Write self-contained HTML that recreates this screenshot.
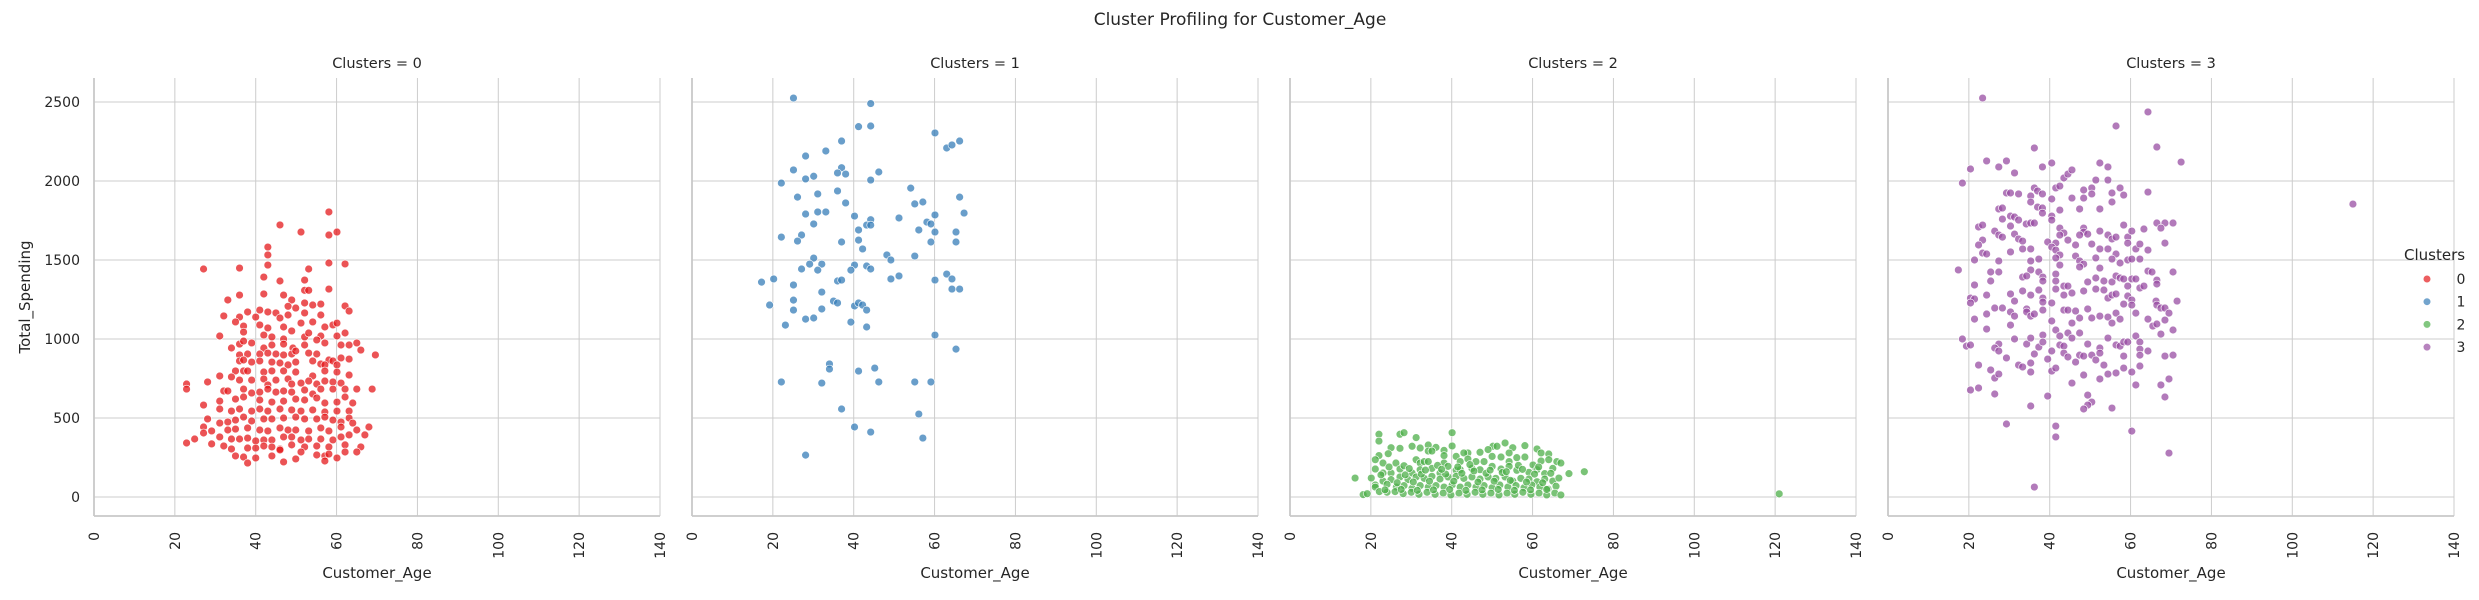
<!DOCTYPE html>
<html><head><meta charset="utf-8"><title>Cluster Profiling for Customer_Age</title>
<style>html,body{margin:0;padding:0;background:#fff}svg{display:block}text{font-family:"DejaVu Sans","Liberation Sans",sans-serif;fill:#262626}</style>
</head><body>
<svg id="chart" width="2479" height="600" viewBox="0 0 2479 600" xmlns="http://www.w3.org/2000/svg">
<text x="1240" y="25" font-size="17" text-anchor="middle">Cluster Profiling for Customer_Age</text>
<g id="panels"></g>
<g>
<text x="2404" y="260" font-size="15">Clusters</text>
<g id="legend-entries"></g>
</g>
</svg>
<script>
const xTicks = [0,20,40,60,80,100,120,140];
const yTicks = [0,500,1000,1500,2000,2500];
const clusterNames = ["0","1","2","3"];
const clusterColors = ["#e41a1c","#377eb8","#4daf4a","#984ea3"];

const age0 = [58.1,46.0,51.2,58.1,60.1,43.0,43.0,43.0,27.1,36.0,53.1,58.1,62.1,42.0,46.0,52.1,52.1,53.1,58.1,33.1,36.0,42.0,46.9,48.9,49.9,48.0,52.1,54.1,56.1,62.1,63.1,32.1,36.0,38.0,40.0,41.0,43.0,45.0,46.0,48.0,52.1,54.1,56.1,35.0,37.0,41.0,43.0,46.9,51.2,48.9,57.1,59.1,60.1,31.1,37.0,42.0,44.0,46.9,52.1,53.1,56.1,60.1,62.1,34.0,36.0,37.0,39.0,42.0,44.0,46.9,49.2,52.1,55.1,57.1,61.1,63.1,65.0,66.0,36.0,38.0,41.0,43.0,45.0,46.9,48.9,49.9,53.1,55.1,58.1,59.1,61.1,63.1,69.6,36.0,37.0,39.0,41.0,44.0,46.0,48.0,49.9,54.1,56.1,57.1,60.1,35.0,37.0,38.0,42.0,44.0,46.9,49.9,54.1,57.1,60.1,63.1,31.1,34.0,36.0,39.0,42.0,43.0,45.0,48.0,48.9,51.2,53.1,55.1,57.1,59.1,61.1,22.9,22.9,28.1,32.1,33.1,37.0,39.0,41.0,43.0,45.0,46.9,48.9,52.1,54.1,56.1,59.1,62.1,65.0,68.8,31.1,35.0,37.0,41.0,44.0,46.9,49.9,52.1,55.1,57.1,60.1,62.1,64.0,27.1,31.1,34.0,36.0,39.0,41.0,43.0,46.0,48.9,51.2,54.1,57.1,60.1,63.1,28.1,31.1,33.1,35.0,37.0,39.0,42.0,44.0,46.9,49.9,52.1,55.1,57.1,59.1,61.1,63.1,64.0,27.1,27.1,29.1,33.1,35.0,38.0,41.0,43.0,46.0,48.0,49.9,53.1,56.1,58.1,61.1,65.0,68.0,67.0,22.9,24.9,29.1,31.1,34.0,36.0,38.0,40.0,42.0,44.0,46.9,48.9,51.2,53.1,56.1,59.1,61.1,63.1,32.1,34.0,38.0,40.0,42.0,44.0,46.0,48.9,52.1,55.1,58.1,62.1,66.0,35.0,37.0,40.0,44.0,46.0,49.9,51.2,55.1,57.1,60.1,62.1,65.0,38.0,46.9,57.1,58.1];
const spend0 = [1804,1722,1677,1658,1677,1582,1532,1468,1443,1449,1443,1481,1475,1392,1367,1373,1308,1308,1316,1247,1278,1285,1278,1247,1196,1207,1228,1215,1221,1209,1177,1146,1139,1171,1139,1183,1171,1165,1133,1152,1165,1108,1152,1108,1082,1089,1070,1076,1101,1051,1076,1089,1101,1019,1044,1025,1013,1000,1013,1038,1019,1019,1038,943,968,987,975,943,962,968,943,962,994,975,962,962,975,930,899,905,905,911,905,899,905,924,911,905,867,861,880,873,899,861,867,854,861,854,848,836,854,861,842,836,836,798,798,798,791,798,798,791,766,798,791,772,766,760,740,740,747,709,740,747,715,721,734,715,734,728,721,715,683,728,671,671,683,658,664,683,664,671,664,677,652,683,683,683,683,683,607,620,633,614,601,607,620,614,627,595,601,633,595,582,557,544,557,544,557,544,557,551,544,551,538,544,544,494,468,475,487,506,481,494,494,500,506,494,494,506,487,475,500,468,443,405,418,424,430,437,424,418,437,424,424,418,437,418,443,424,443,393,342,367,336,380,367,367,373,355,361,361,380,380,361,367,367,361,380,393,323,304,310,310,323,317,304,330,317,323,317,330,317,260,253,247,260,298,241,285,266,260,247,285,285,215,222,228,272];

const age1 = [25.1,44.2,41.2,44.2,60.1,37.0,63.0,64.3,66.2,33.1,28.1,25.1,37.0,36.0,38.0,30.1,28.1,46.2,44.2,22.1,54.1,26.1,31.1,36.0,38.0,55.1,57.1,66.2,28.1,31.1,33.1,30.1,40.2,44.2,43.2,44.2,51.2,58.1,59.1,60.1,67.3,41.2,56.1,60.1,65.3,22.1,27.1,26.1,37.0,41.2,42.2,59.1,65.3,30.1,29.1,32.1,27.1,31.1,40.2,39.3,43.2,44.2,48.2,49.2,55.1,17.2,20.2,25.1,36.0,37.0,49.2,51.2,60.1,63.0,64.3,64.3,66.2,32.1,25.1,19.2,25.1,32.1,35.0,36.0,40.2,41.2,42.2,43.2,23.1,28.1,30.1,39.3,43.2,60.1,65.3,34.0,34.0,41.2,45.2,22.1,32.1,46.2,55.1,59.1,37.0,56.1,40.2,44.2,57.1,28.1];
const spend1 = [2525,2490,2344,2348,2304,2253,2209,2228,2253,2190,2158,2070,2084,2051,2044,2030,2013,2057,2006,1987,1955,1898,1918,1937,1861,1855,1867,1898,1791,1804,1804,1728,1778,1755,1721,1721,1766,1740,1728,1785,1797,1690,1690,1677,1677,1645,1658,1620,1614,1626,1570,1614,1614,1512,1474,1474,1443,1436,1468,1436,1462,1443,1532,1500,1525,1360,1380,1342,1367,1373,1380,1399,1373,1411,1380,1316,1316,1297,1246,1215,1183,1190,1240,1228,1209,1228,1215,1183,1088,1126,1133,1107,1076,1025,936,842,810,797,816,728,721,728,728,728,557,525,443,411,373,265];

const age2 = [22.0,22.0,27.2,28.2,31.2,40.1,40.1,25.0,27.2,30.2,32.2,34.2,36.1,38.1,34.2,35.1,50.2,51.2,53.2,55.1,58.1,61.1,49.0,47.0,44.0,43.0,41.1,62.1,64.0,22.0,24.3,21.1,23.0,26.2,31.2,32.2,33.2,34.2,38.1,38.1,42.1,44.0,46.0,48.0,50.0,52.2,54.2,54.2,56.1,58.1,60.1,62.1,64.0,66.0,67.0,69.0,72.8,16.1,20.1,21.1,21.1,23.0,25.0,27.2,28.2,30.2,32.2,35.1,37.1,39.1,41.1,42.1,45.0,47.0,50.0,52.2,54.2,56.1,59.1,61.1,63.0,65.0,23.0,25.0,27.2,29.2,31.2,33.2,35.1,37.1,39.1,41.1,43.0,45.0,47.0,49.0,50.9,53.2,55.1,57.1,59.1,61.1,63.0,65.0,21.1,24.0,26.3,28.2,30.2,32.2,34.2,36.1,38.1,40.1,42.1,44.0,46.0,48.0,50.0,51.9,53.9,55.9,57.9,59.8,61.8,63.8,65.8,18.1,19.1,22.1,24.0,26.0,28.0,30.0,31.9,33.9,35.9,37.9,39.8,41.8,43.8,45.8,47.7,49.7,51.7,53.7,55.6,57.6,59.6,61.6,63.5,65.5,67.0,22.5,24.5,26.5,28.5,30.5,32.5,34.5,36.5,38.5,40.5,42.5,44.5,46.5,48.5,50.5,52.5,54.5,56.5,58.5,60.5,62.5,64.5,66.5,23.5,27.5,31.5,35.5,39.5,43.5,47.5,51.5,55.5,59.5,63.5,29.5,33.5,37.5,41.5,45.5,49.5,53.5,57.5,61.5,121];
const spend2 = [397,354,397,407,376,407,323,312,308,321,310,329,314,295,291,291,321,321,342,312,325,304,300,283,279,279,257,279,272,262,274,236,215,215,236,215,224,224,262,215,224,241,224,224,257,253,279,224,249,253,203,228,236,224,215,148,160,120,120,177,76,152,152,177,198,152,173,181,152,194,169,173,181,173,194,177,194,169,156,173,148,181,101,110,127,110,127,118,131,114,127,131,118,127,114,127,118,127,101,118,114,97,114,101,63,80,63,72,55,72,63,72,63,76,63,76,63,72,59,76,63,72,59,76,63,51,68,15,21,34,30,34,21,30,17,30,17,25,13,25,17,30,17,25,13,25,17,30,17,25,13,25,13,140,190,90,140,95,145,100,200,145,100,150,205,95,150,100,155,105,200,95,145,90,150,120,45,48,42,45,48,42,45,48,42,45,48,180,170,175,190,165,170,160,175,190,20];

const age3 = [23.4,64.3,56.4,36.2,66.5,72.5,24.4,29.3,20.4,27.4,31.3,40.5,38.2,43.5,44.5,45.5,52.4,54.4,51.4,54.4,18.4,29.3,30.3,32.3,36.2,37.0,38.2,35.3,35.3,41.5,42.5,40.5,45.5,48.4,50.4,50.4,48.4,55.4,57.4,58.3,55.4,64.3,27.4,28.3,37.0,38.2,38.2,42.5,47.4,52.4,30.3,31.3,32.3,28.3,40.5,40.5,34.2,35.3,36.2,22.4,23.4,30.3,26.4,27.4,28.3,31.3,32.3,33.3,23.4,22.4,23.4,24.4,30.3,33.3,35.3,42.5,43.5,42.5,44.5,39.5,41.5,40.5,41.5,42.5,41.5,42.5,46.4,46.4,48.4,48.4,47.4,49.4,52.4,54.4,55.4,56.4,58.3,59.3,60.3,63.3,50.4,52.4,51.4,54.4,56.4,55.4,57.4,59.3,61.3,62.3,64.3,59.3,60.3,62.3,66.5,68.5,70.5,67.5,68.5,21.4,17.4,27.4,25.4,27.4,25.4,21.4,35.3,37.3,35.3,37.3,38.3,33.3,34.3,38.3,41.5,41.5,43.5,44.5,47.4,48.4,47.4,49.4,51.4,52.4,53.4,55.4,56.4,57.4,58.3,59.3,60.3,61.3,62.3,63.3,64.3,65.3,66.5,66.5,70.5,71.5,20.4,21.4,20.4,24.4,30.3,31.3,33.3,35.3,37.3,38.3,38.3,40.5,41.5,43.5,45.5,48.4,51.4,53.4,54.4,55.4,56.4,59.3,60.3,58.3,60.3,66.3,66.5,67.5,68.5,69.5,21.4,24.4,26.4,28.3,30.3,31.3,30.3,34.3,34.3,35.3,36.2,38.3,40.5,43.5,44.5,46.4,45.5,47.4,49.4,50.4,52.4,54.4,56.4,55.4,57.4,61.3,64.3,65.5,66.5,68.5,70.5,67.5,24.4,18.4,19.4,20.4,27.4,26.4,27.4,31.3,34.3,35.3,37.3,38.3,38.3,40.5,41.5,42.5,42.5,43.5,44.5,45.5,43.5,44.5,47.4,49.4,47.4,50.4,52.4,52.4,54.4,56.4,57.4,58.3,59.3,58.3,61.3,62.3,62.3,62.3,64.3,68.5,70.5,22.4,25.4,26.4,27.4,29.3,32.3,33.3,35.3,35.3,36.2,39.5,40.5,41.5,46.4,48.4,48.4,51.4,53.4,52.4,54.4,56.4,58.3,60.3,62.3,20.4,22.4,26.4,45.5,61.3,67.5,69.5,68.5,39.5,35.3,49.4,50.4,49.4,48.4,55.4,29.3,41.5,41.5,60.3,69.5,36.2,115];
const spend3 = [2525,2437,2348,2209,2215,2120,2127,2127,2076,2089,2051,2114,2089,2019,2044,2070,2114,2089,2006,2006,1987,1924,1924,1918,1956,1937,1918,1905,1867,1956,1968,1886,1892,1943,1956,1918,1892,1924,1956,1911,1867,1930,1823,1829,1835,1829,1797,1816,1823,1823,1778,1772,1753,1759,1778,1753,1728,1734,1734,1709,1721,1715,1683,1658,1645,1664,1633,1620,1626,1595,1544,1538,1551,1570,1570,1702,1671,1658,1626,1614,1607,1582,1563,1532,1513,1468,1595,1525,1702,1677,1658,1664,1683,1658,1633,1645,1721,1645,1683,1696,1601,1570,1513,1570,1538,1506,1481,1607,1570,1601,1563,1500,1506,1506,1734,1734,1734,1702,1607,1500,1437,1494,1424,1424,1367,1342,1494,1506,1437,1424,1392,1392,1399,1367,1411,1367,1335,1335,1494,1474,1456,1361,1386,1449,1367,1361,1399,1386,1380,1335,1380,1380,1323,1335,1430,1424,1373,1348,1424,1240,1259,1253,1228,1278,1285,1240,1304,1278,1310,1259,1234,1228,1316,1278,1291,1304,1316,1310,1259,1278,1285,1272,1247,1221,1215,1240,1215,1196,1196,1164,1126,1158,1196,1196,1171,1145,1088,1190,1171,1145,1158,1183,1114,1183,1183,1177,1101,1133,1190,1133,1145,1139,1164,1101,1126,1164,1126,1082,1095,1120,1057,1031,1063,1000,955,962,968,943,924,1000,968,1006,949,1025,981,924,1057,962,1019,955,1038,1006,911,886,1038,968,898,898,943,911,1006,962,955,981,981,892,1019,981,936,898,924,892,898,835,804,753,778,880,835,823,848,791,905,873,797,816,854,892,772,867,835,747,778,785,816,791,829,677,690,652,721,709,709,747,633,639,576,645,601,582,557,563,462,449,380,417,278,63,1854];

const ageData = [age0, age1, age2, age3];
const spendData = [spend0, spend1, spend2, spend3];

const NS = "http://www.w3.org/2000/svg";
const panelLeft = [94, 692, 1290, 1888];
const panelW = 566, plotTop = 78, plotBottom = 516;
const xMin = 0, xMax = 140, y0px = 497, yPerUnit = 0.158;
function xScale(p, v){ return panelLeft[p] + (v - xMin) / (xMax - xMin) * panelW; }
function yScale(v){ return y0px - v * yPerUnit; }
function mk(tag, attrs, parent){ const e = document.createElementNS(NS, tag); for (const k in attrs) e.setAttribute(k, attrs[k]); parent.appendChild(e); return e; }

const panels = document.getElementById('panels');
for (let p = 0; p < 4; p++) {
  const g = mk('g', {}, panels);
  
  
  const L = panelLeft[p], R = L + panelW;
  yTicks.forEach(t => {
    const l = mk('line', {x1: L, x2: R, y1: yScale(t), y2: yScale(t), stroke: '#cccccc', 'stroke-width': 1}, g);
    
    
    if (p === 0) {
      const tx = mk('text', {x: L - 14, y: yScale(t) + 5, 'font-size': 14, 'text-anchor': 'end'}, g);
      tx.textContent = t;
      
      
    }
  });
  xTicks.forEach(t => {
    const x = xScale(p, t);
    const l = mk('line', {x1: x, x2: x, y1: plotTop, y2: plotBottom, stroke: '#cccccc', 'stroke-width': 1}, g);
    
    
    const tx = mk('text', {x: 0, y: 0, 'font-size': 14, 'text-anchor': 'end', transform: 'translate(' + (x + 5) + ',532) rotate(-90)'}, g);
    tx.textContent = t;
    
    
  });
  const sp1 = mk('line', {x1: L, x2: L, y1: plotTop, y2: plotBottom, stroke: '#c8c8c8', 'stroke-width': 1.8}, g);
  
  
  const sp2 = mk('line', {x1: L, x2: R, y1: plotBottom, y2: plotBottom, stroke: '#c8c8c8', 'stroke-width': 1.8}, g);
  
  
  const pt = mk('text', {x: L + panelW / 2, y: 68, 'font-size': 14.5, 'text-anchor': 'middle'}, g);
  pt.textContent = 'Clusters = ' + clusterNames[p];
  
  
  const xl = mk('text', {x: L + panelW / 2, y: 578, 'font-size': 15, 'text-anchor': 'middle'}, g);
  xl.textContent = 'Customer_Age';
  
  
  const ages = ageData[p], sp = spendData[p];
  for (let i = 0; i < ages.length; i++) {
    const c = mk('circle', {cx: xScale(p, ages[i]), cy: yScale(sp[i]), r: 3.9, fill: clusterColors[p], 'fill-opacity': 0.75, stroke: '#ffffff', 'stroke-width': 0.6}, g);
    
    
  }
}
const yl = mk('text', {x: 0, y: 0, 'font-size': 15, 'text-anchor': 'middle', transform: 'translate(30,297) rotate(-90)'}, panels);
yl.textContent = 'Total_Spending';



const leg = document.getElementById('legend-entries');
clusterNames.forEach((n, i) => {
  const g = mk('g', {}, leg);
  
  
  const y = 279 + i * 22.7;
  mk('circle', {cx: 2427, cy: y, r: 3.8, fill: clusterColors[i], 'fill-opacity': 0.7, stroke: '#fff', 'stroke-width': 0.6}, g);
  const t = mk('text', {x: 2461, y: y + 5, 'font-size': 14, 'text-anchor': 'middle'}, g);
  t.textContent = n;
});
</script>
</body></html>
